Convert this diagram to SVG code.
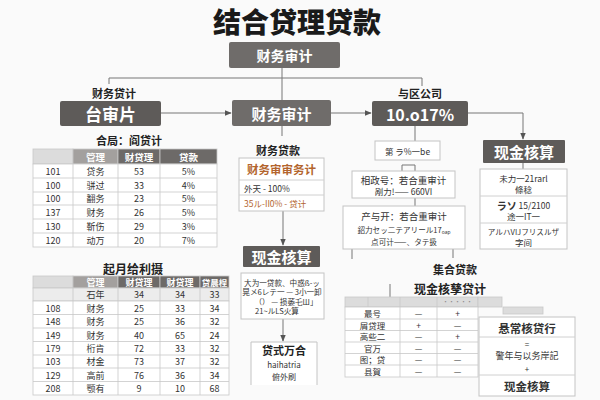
<svg xmlns="http://www.w3.org/2000/svg" width="600" height="400" viewBox="0 0 600 400">
<defs>
<marker id="ah" viewBox="0 0 10 10" refX="9" refY="5" markerWidth="7" markerHeight="7" orient="auto-start-reverse"><path d="M0,1 L10,5 L0,9 z" fill="#555"/></marker>
<style>
text{font-family:"Noto Sans CJK SC","Noto Sans",sans-serif;text-anchor:middle;dominant-baseline:central}
.dk{fill:#5e5b59}
.md{fill:#6f6c6a}
.wt{fill:#fff;font-weight:bold}
.lb{fill:#222;font-weight:bold;font-size:11px}
.ln{stroke:#777;stroke-width:1;fill:none}
.bx{fill:#fff;stroke:#c4c4c4;stroke-width:1}
.cell{fill:#fff;stroke:#c8c8c8;stroke-width:0.8}
.hl{fill:#dcdcdc;stroke:#c8c8c8;stroke-width:0.8}
.hm{fill:#a3a09e;stroke:#c8c8c8;stroke-width:0.8}
.hd{fill:#6d6a68;stroke:#c8c8c8;stroke-width:0.8}
.t{font-size:9px;fill:#333}
.u{font-size:8.5px;fill:#333}
.th{font-size:9.5px;fill:#fff;font-weight:bold}
.s{font-size:8.5px;fill:#333}
.n{font-size:7.6px;fill:#333}
.or{fill:#b3652e}
</style>
</defs>
<rect width="600" height="400" fill="#fafafa"/>
<text x="297" y="33" style="font-size:28px;font-weight:900;fill:#1a1a1a;dominant-baseline:alphabetic">结合贷理贷款</text>

<g id="connectors">
<path class="ln" d="M109,84 V78 H422 V86"/>
<path class="ln" d="M282,68 V100"/>
<path class="ln" d="M161,113 H231" marker-end="url(#ah)"/>
<path class="ln" d="M331,113 H371" marker-end="url(#ah)"/>
<path class="ln" d="M468,113 H523 V139" marker-end="url(#ah)"/>
<path class="ln" d="M282,126 V136"/>
<path class="ln" d="M283,211 V245" marker-end="url(#ah)"/>
<path class="ln" d="M283,319 V341" marker-end="url(#ah)"/>
<path class="ln" d="M415,126 V141"/>
<path class="ln" d="M402,171 V165 H415 V171"/>
<path class="ln" d="M415,198 V206"/>
<path class="ln" d="M523,163 V169"/>
<path class="ln" d="M352,249 V259"/>
<path class="ln" d="M390,284 V297"/>
<path class="ln" d="M453,249 V258"/>
</g>

<g id="n-top"><rect x="229" y="42" width="111" height="26" rx="2" class="md"/><text x="284.5" y="55" class="wt" style="font-size:14px">财务审计</text></g>

<g id="n-left">
<text x="114" y="93" class="lb">财务贷计</text>
<rect x="60" y="101" width="101" height="25" rx="2" class="dk"/><text x="110.5" y="113.5" class="wt" style="font-size:17px">台审片</text>
</g>

<g id="n-mid">
<rect x="232" y="100" width="99" height="26" rx="2" class="md"/><text x="281.5" y="113" class="wt" style="font-size:15px">财务审计</text>
</g>

<g id="n-right">
<text x="420" y="93" class="lb">与区公司</text>
<rect x="372" y="101" width="96" height="25" rx="2" class="dk"/><text x="420" y="113.5" class="wt" style="font-size:16px">10.o17%</text>
</g>

<g id="n-loanbox">
<text x="278" y="150" class="lb">财务贷款</text>
<rect x="239" y="158" width="85" height="53" class="bx"/>
<line x1="239" y1="180" x2="324" y2="180" stroke="#d0d0d0"/>
<line x1="239" y1="195" x2="324" y2="195" stroke="#d0d0d0"/>
<text x="281.5" y="169" class="or" style="font-size:11.5px;font-weight:bold">财务审审务计</text>
<text x="244" y="187.5" class="s" style="text-anchor:start">外天 - 100%</text>
<text x="244" y="203" class="s or" style="text-anchor:start">35ル-II0% - 贷计</text>
</g>

<g id="n-cash-mid">
<rect x="243" y="246" width="77" height="21" rx="1" class="dk"/><text x="281.5" y="256.5" class="wt" style="font-size:15px">现金核算</text>
</g>

<g id="n-cash-note">
<rect x="241" y="273" width="83" height="46" class="bx"/>
<text x="282" y="282" class="n">大为一贷款、中惑ß-ッ</text>
<text x="282" y="291.5" class="n">晃メ6レテ一 — 3小一卸</text>
<text x="286" y="301" class="n">（） — 损萎乇Ш」</text>
<text x="277" y="310.5" class="n">21~ルLS火算</text>
</g>

<g id="n-bottom-mid">
<path d="M251,385 V342 H317 V385" class="bx"/>
<text x="284" y="350" style="font-size:11px;font-weight:bold;fill:#222">贷式万合</text>
<text x="284" y="364.5" style="font-size:8px;fill:#333">haihatria</text>
<text x="284" y="376" style="font-size:8px;fill:#333">俯外刷</text>
</g>

<g id="n-first">
<rect x="375" y="141" width="65" height="19" class="bx"/>
<text x="407.5" y="150.5" class="s">第 ラ%一be</text>
</g>

<g id="n-second">
<rect x="352" y="171" width="103" height="27" class="bx"/>
<text x="403.5" y="179.5" style="font-size:9.5px;fill:#333">相政号：若合重审计</text>
<text x="403.5" y="191" class="s">剐力!—— 660VI</text>
</g>

<g id="n-third">
<rect x="343" y="206" width="122" height="43" class="bx"/>
<text x="404" y="216" style="font-size:9.5px;fill:#333">产与开：若合重审计</text>
<text x="404" y="229.5" class="n">鉊力セッ二テアリール17ₒₐₚ</text>
<text x="404" y="241.5" class="n">点可计——、タテ扱</text>
</g>

<g id="n-cash-right">
<rect x="483" y="140" width="82" height="23" rx="1" class="dk"/><text x="524" y="151.5" class="wt" style="font-size:15px">现金核算</text>
<rect x="480" y="169" width="87" height="80" class="bx"/>
<line x1="480" y1="196" x2="567" y2="196" stroke="#d0d0d0"/>
<line x1="480" y1="223" x2="567" y2="223" stroke="#d0d0d0"/>
<text x="523.5" y="178" class="s">未力一21rarl</text>
<text x="523.5" y="189" class="s">條稔</text>
<text x="523.5" y="205" class="s"><tspan style="font-weight:bold;font-size:10px">ラソ</tspan> 15/2100</text>
<text x="523.5" y="216" class="s">途一IT一</text>
<text x="523.5" y="231" class="n">アルハVIJフリスルザ</text>
<text x="523.5" y="242" class="s">字间</text>
</g>

<g id="n-table1">
<text x="129" y="140" class="lb">合局：阎贷计</text>
<rect x="33" y="149" width="40" height="15" class="hl"/>
<rect x="73" y="149" width="45" height="15" class="hm"/>
<rect x="118" y="149" width="42" height="15" class="hd"/>
<rect x="160" y="149" width="57" height="15" class="hd"/>
<text x="95.5" y="156.5" class="th">管理</text><text x="139" y="156.5" class="th">财贷理</text><text x="188.5" y="156.5" class="th">贷款</text>
<rect x="33" y="164" width="184" height="83" class="cell"/>
<path d="M33,178 H217 M33,192 H217 M33,205 H217 M33,219 H217 M33,233 H217 M73,164 V247 M118,164 V247 M160,164 V247" stroke="#c8c8c8" stroke-width="0.8"/>
<text x="53" y="171" class="t">101</text><text x="95.5" y="171" class="t">贷务</text><text x="139" y="171" class="t">53</text><text x="188.5" y="171" class="t">5%</text>
<text x="53" y="185" class="t">100</text><text x="95.5" y="185" class="t">骈过</text><text x="139" y="185" class="t">33</text><text x="188.5" y="185" class="t">4%</text>
<text x="53" y="198.5" class="t">100</text><text x="95.5" y="198.5" class="t">翻务</text><text x="139" y="198.5" class="t">23</text><text x="188.5" y="198.5" class="t">5%</text>
<text x="53" y="212" class="t">137</text><text x="95.5" y="212" class="t">财务</text><text x="139" y="212" class="t">26</text><text x="188.5" y="212" class="t">5%</text>
<text x="53" y="226" class="t">130</text><text x="95.5" y="226" class="t">靳伤</text><text x="139" y="226" class="t">29</text><text x="188.5" y="226" class="t">3%</text>
<text x="53" y="240" class="t">120</text><text x="95.5" y="240" class="t">动万</text><text x="139" y="240" class="t">20</text><text x="188.5" y="240" class="t">7%</text>
</g>

<g id="n-table2">
<text x="133" y="268" class="lb" style="font-size:12px">起月给利摄</text>
<rect x="33" y="276" width="40" height="12" class="hl"/>
<rect x="73" y="276" width="45" height="12" class="hm"/>
<rect x="118" y="276" width="42" height="12" class="hd"/>
<rect x="160" y="276" width="40" height="12" class="hd"/>
<rect x="200" y="276" width="29" height="12" class="hd"/>
<text x="95.5" y="282" class="th" style="font-size:9px">管理</text><text x="139" y="282" class="th" style="font-size:9px">财贷理</text><text x="180" y="282" class="th" style="font-size:9px">财贷理</text><text x="214.5" y="282" class="th" style="font-size:8.5px">贷晨桯</text>
<rect x="33" y="288" width="196" height="13" fill="#ececec" stroke="#c8c8c8" stroke-width="0.8"/>
<rect x="33" y="301" width="196" height="94" class="cell"/>
<path d="M33,314.5 H229 M33,328 H229 M33,341.5 H229 M33,355 H229 M33,368 H229 M33,381.5 H229 M73,288 V395 M118,288 V395 M160,288 V395 M200,288 V395" stroke="#c8c8c8" stroke-width="0.8"/>
<text x="95.5" y="294.5" class="t">石年</text><text x="139" y="294.5" class="t">34</text><text x="180" y="294.5" class="t">34</text><text x="214.5" y="294.5" class="t">33</text>
<text x="53" y="308" class="t">108</text><text x="95.5" y="308" class="t">财务</text><text x="139" y="308" class="t">25</text><text x="180" y="308" class="t">33</text><text x="214.5" y="308" class="t">34</text>
<text x="53" y="321.5" class="t">148</text><text x="95.5" y="321.5" class="t">财务</text><text x="139" y="321.5" class="t">25</text><text x="180" y="321.5" class="t">36</text><text x="214.5" y="321.5" class="t">32</text>
<text x="53" y="335" class="t">149</text><text x="95.5" y="335" class="t">财务</text><text x="139" y="335" class="t">40</text><text x="180" y="335" class="t">65</text><text x="214.5" y="335" class="t">24</text>
<text x="53" y="348.5" class="t">179</text><text x="95.5" y="348.5" class="t">桁肯</text><text x="139" y="348.5" class="t">72</text><text x="180" y="348.5" class="t">33</text><text x="214.5" y="348.5" class="t">32</text>
<text x="53" y="361.5" class="t">103</text><text x="95.5" y="361.5" class="t">材金</text><text x="139" y="361.5" class="t">73</text><text x="180" y="361.5" class="t">37</text><text x="214.5" y="361.5" class="t">32</text>
<text x="53" y="375" class="t">129</text><text x="95.5" y="375" class="t">高前</text><text x="139" y="375" class="t">76</text><text x="180" y="375" class="t">36</text><text x="214.5" y="375" class="t">34</text>
<text x="53" y="388" class="t">208</text><text x="95.5" y="388" class="t">颚有</text><text x="139" y="388" class="t">9</text><text x="180" y="388" class="t">10</text><text x="214.5" y="388" class="t">68</text>
</g>

<g id="n-table3">
<text x="455" y="269" class="lb">集合贷款</text>
<text x="450" y="288" class="lb" style="font-size:12px">现金核孳贷计</text>
<rect x="345" y="297" width="133" height="10" class="hl"/>
<rect x="478" y="297" width="24" height="10" class="hl"/>
<rect x="503" y="307" width="40" height="7" class="hl"/>
<path d="M368,297 V307" stroke="#c8c8c8" stroke-width="0.8"/>
<text x="457.5" y="301.5" style="font-size:6px;fill:#888">·····</text>
<rect x="345" y="307" width="133" height="70" class="cell"/>
<path d="M345,319 H478 M345,330.5 H478 M345,342 H478 M345,353.5 H478 M345,365 H478 M400,297 V377 M437,297 V377" stroke="#c8c8c8" stroke-width="0.8"/>
<text x="372.5" y="313" class="u">最号</text><text x="418.5" y="313" class="u">—</text><text x="457.5" y="313" class="u">+</text>
<text x="372.5" y="324.8" class="u">屑贷理</text><text x="418.5" y="324.8" class="u">+</text><text x="457.5" y="324.8" class="u">—</text>
<text x="372.5" y="336.3" class="u">高些二</text><text x="418.5" y="336.3" class="u">—</text><text x="457.5" y="336.3" class="u">+</text>
<text x="372.5" y="347.8" class="u">官万</text><text x="418.5" y="347.8" class="u">—</text><text x="457.5" y="347.8" class="u">—</text>
<text x="372.5" y="359.3" class="u">图；贷</text><text x="418.5" y="359.3" class="u">—</text><text x="457.5" y="359.3" class="u">—</text>
<text x="372.5" y="371" class="u">县賀</text><text x="418.5" y="371" class="u">—</text><text x="457.5" y="371" class="u">—</text>
</g>

<g id="n-formula">
<rect x="479" y="317" width="96" height="79" class="bx"/>
<line x1="479" y1="337" x2="575" y2="337" stroke="#d0d0d0"/>
<line x1="479" y1="375" x2="575" y2="375" stroke="#d0d0d0"/>
<text x="527" y="327.5" style="font-size:11.5px;font-weight:bold;fill:#333">悬常核贷行</text>
<text x="527" y="343" style="font-size:8px;fill:#333">=</text>
<text x="527" y="355.5" style="font-size:9px;fill:#333">警年与以务岸記</text>
<text x="527" y="368" style="font-size:8px;fill:#333">+</text>
<text x="527" y="385.5" style="font-size:11.5px;font-weight:bold;fill:#333">现金核算</text>
</g>
</svg>
